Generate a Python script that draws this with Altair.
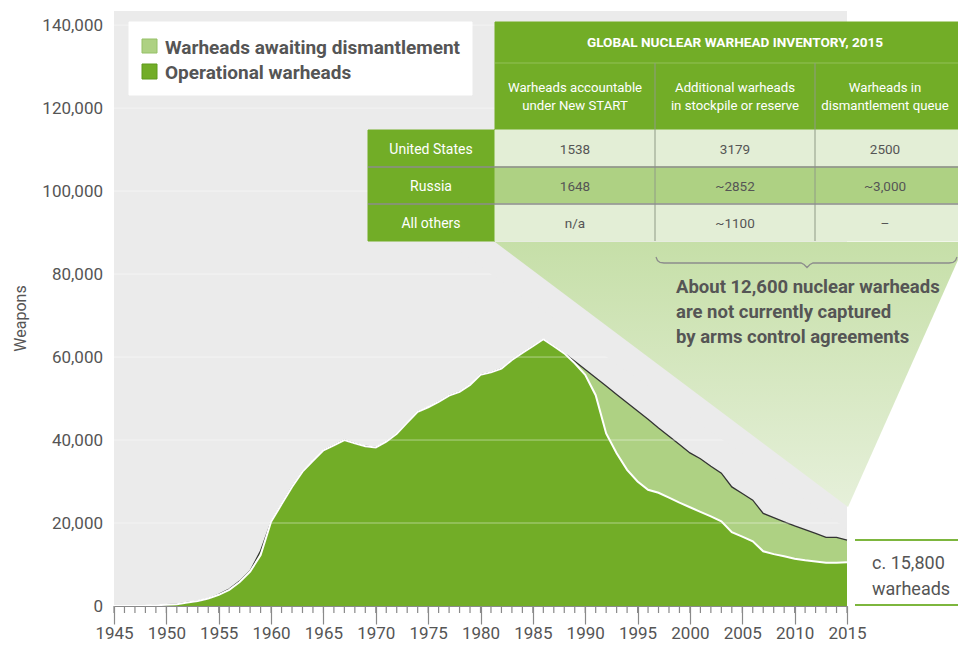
import altair as alt
import pandas as pd

# ---------------- data ----------------
years = list(range(1945, 2016))
total_inventory = [
    2, 9, 13, 50, 170, 300, 450, 850, 1200, 1800,
    2800, 4100, 6000, 8500, 13300, 20300, 24500, 28700, 32400, 35000,
    37500, 38700, 40000, 39200, 38500, 38200, 39600, 41500, 44200, 46800,
    47900, 49200, 50700, 51600, 53300, 55700, 56300, 57200, 59300, 61000,
    62600, 64300, 62600, 60900, 59000, 57000, 55000, 53000, 51000, 49000,
    47000, 45000, 42900, 40900, 38900, 36900, 35500, 33700, 32000, 28700,
    27100, 25500, 22300, 21300, 20300, 19300, 18400, 17500, 16550, 16550, 15900,
]
operational = [
    2, 9, 13, 50, 170, 300, 450, 850, 1200, 1800,
    2700, 3900, 5800, 8300, 12300, 20300, 24500, 28700, 32400, 35000,
    37500, 38700, 40000, 39200, 38500, 38200, 39600, 41500, 44200, 46800,
    47900, 49200, 50700, 51600, 53300, 55700, 56300, 57200, 59300, 61000,
    62600, 64300, 62600, 60900, 58500, 55700, 50800, 41600, 36800, 32800,
    30000, 28000, 27300, 26100, 24900, 23800, 22700, 21600, 20400, 17800,
    16700, 15600, 13200, 12500, 12000, 11400, 11000, 10700, 10450, 10400, 10550,
]
y_ticks = [0, 20000, 40000, 60000, 80000, 100000, 120000, 140000]
x_ticks = list(range(1945, 2016, 5))
minor_years = list(range(1945, 2016))

legend_labels = ["Warheads awaiting dismantlement", "Operational warheads"]
table_title = "GLOBAL NUCLEAR WARHEAD INVENTORY, 2015"
col_heads = [["Warheads accountable", "under New START"],
             ["Additional warheads", "in stockpile or reserve"],
             ["Warheads in", "dismantlement queue"]]
row_heads = ["United States", "Russia", "All others"]
cells = [["1538", "3179", "2500"],
         ["1648", "~2852", "~3,000"],
         ["n/a", "~1100", "\u2013"]]
note_lines = ["About 12,600 nuclear warheads",
              "are not currently captured",
              "by arms control agreements"]
end_label = ["c. 15,800", "warheads"]

# ---------------- styling / layout ----------------
GREEN = "#72ad27"
LIGHT = "#aed183"
PALE = "#e3eed6"
BG = "#ebebeb"
TXT = "#555555"
FONT = "Roboto"

X0, Y0 = 114, 11          # page position of plot's top-left corner
W, H = 733, 595
PAGE_W, PAGE_H = 950, 636  # svg size (fits inside the window with the 8px margin)


def px(x):
    return x - X0


def py(y):
    return y - Y0


xscale = alt.Scale(domain=[1945, 2015], nice=False, zero=False)
yscale = alt.Scale(domain=[0, 143400], nice=False)
xaxis = alt.Axis(values=x_ticks, format="d", tickSize=18, tickColor="#8a8a8a",
                 tickWidth=1.2, domainColor="#8a8a8a", domainWidth=1.2,
                 labelFontSize=17, labelColor=TXT, labelFont=FONT,
                 labelBaseline="alphabetic", labelPadding=14,
                 labelOverlap=False, labelFlush=False, grid=False, zindex=1)
yaxis = alt.Axis(values=y_ticks, format=",.0f", labelFontSize=17, labelColor=TXT,
                 labelFont=FONT, ticks=False, tickSize=0, domain=False, grid=False,
                 labelPadding=11.5, labelOverlap=False, titleFont=FONT, titleFontSize=16,
                 titleFontWeight="normal", titleColor=TXT, titleAngle=270,
                 titleX=-94, titleY=307, titleAlign="center", titleBaseline="middle")


def xenc(f):
    return alt.X(f, type="quantitative", scale=xscale, axis=xaxis, title=None)


def yenc(f):
    return alt.Y(f, type="quantitative", scale=yscale, axis=yaxis, title="Weapons")


df = pd.DataFrame({"year": years, "total": total_inventory, "operational": operational})
base = alt.Chart(df)

band = base.mark_area(color=LIGHT).encode(x=xenc("year"), y=yenc("total"))
ops = base.mark_area(color=GREEN).encode(x=xenc("year"), y=yenc("operational"))
tot_line = base.mark_line(color="#333333", strokeWidth=1.3).encode(x=xenc("year"), y=yenc("total"))
ops_line = base.mark_line(color="white", strokeWidth=2).encode(x=xenc("year"), y=yenc("operational"))

grid = alt.Chart(pd.DataFrame({"v": y_ticks[1:]})).mark_rule(
    color="white", opacity=0.45, strokeWidth=1
).encode(y=yenc("v"), x=alt.value(0), x2=alt.value(W))

minor = alt.Chart(pd.DataFrame({"yr": minor_years})).mark_rule(
    color="#8a8a8a", strokeWidth=1.2
).encode(x=xenc("yr"), y=alt.value(H), y2=alt.value(H + 7))

PX = alt.X("x:Q", scale=None, axis=None)
PY = alt.Y("y:Q", scale=None, axis=None)

# gray mask that ends the gridlines along a diagonal, then the funnel
mask = alt.Chart(pd.DataFrame({
    "x": [px(446), px(847)], "y": [py(242), py(242)], "y2": [py(242), py(529)]
})).mark_area(color=BG).encode(x=PX, y=PY, y2="y2:Q")

funnel = alt.Chart(pd.DataFrame({
    "x": [px(495), px(848), px(966)], "y": [py(242)] * 3, "y2": [py(242), py(507), py(242)]
})).mark_area(
    color=alt.Gradient(gradient="linear",
                       stops=[alt.GradientStop(color="#c6dfa8", offset=0),
                              alt.GradientStop(color="#e6f0da", offset=1)],
                       x1=0, x2=0, y1=0, y2=1)
).encode(x=PX, y=PY, y2="y2:Q")

brace_pts = [(656, 257), (657.5, 260.5), (660, 262.5), (664, 263), (801, 263), (804, 264.5),
             (807, 267.5), (810, 264.5), (813, 263), (949, 263), (953, 262.5), (955.5, 260.5), (957, 257)]
brace = alt.Chart(pd.DataFrame({
    "i": list(range(len(brace_pts))),
    "x": [px(a) for a, b in brace_pts], "y": [py(b) for a, b in brace_pts]
})).mark_line(color="#8c8c8c", strokeWidth=1.3).encode(x=PX, y=PY, order="i:Q")

# rectangles: legend box, table
rect_rows = [
    (129, 472, 22, 95, "#ffffff", "#ffffff"),
    (495, 966, 22, 63, GREEN, GREEN),
    (495, 966, 63, 130, GREEN, GREEN),
    (368, 495, 130, 241, GREEN, GREEN),
    (495, 966, 130, 167, PALE, PALE),
    (495, 966, 167, 204, LIGHT, LIGHT),
    (495, 966, 204, 241, PALE, PALE),
    (142, 157, 39, 53, LIGHT, "#95c066"),
    (142, 157, 64, 79, GREEN, "#5e9a1c"),
]
rects = alt.Chart(pd.DataFrame({
    "x": [px(r[0]) for r in rect_rows], "x2": [px(r[1]) for r in rect_rows],
    "y": [py(r[2]) for r in rect_rows], "y2": [py(r[3]) for r in rect_rows],
    "f": [r[4] for r in rect_rows], "s": [r[5] for r in rect_rows],
})).mark_rect(strokeWidth=1).encode(
    x=PX, x2="x2:Q", y=PY, y2="y2:Q",
    fill=alt.Fill("f:N", scale=None), stroke=alt.Stroke("s:N", scale=None))

rule_rows = [
    (495, 966, 63, 63, "#92c058", 1),
    (655, 655, 63, 241, "#8f9a86", 1),
    (815, 815, 63, 241, "#8f9a86", 1),
    (368, 966, 167, 167, "#8c8c8c", 1.5),
    (368, 966, 204, 204, "#8c8c8c", 1.5),
    (855, 966, 540, 540, "#7db63e", 2),
    (855, 966, 605, 605, "#7db63e", 2),
]
rules = alt.Chart(pd.DataFrame({
    "x": [px(r[0]) for r in rule_rows], "x2": [px(r[1]) for r in rule_rows],
    "y": [py(r[2]) for r in rule_rows], "y2": [py(r[3]) for r in rule_rows],
    "c": [r[4] for r in rule_rows], "w": [r[5] for r in rule_rows],
})).mark_rule().encode(
    x=PX, x2="x2:Q", y=PY, y2="y2:Q",
    color=alt.Color("c:N", scale=None), strokeWidth=alt.StrokeWidth("w:Q", scale=None))


def text_layer(rows, align, weight):
    d = pd.DataFrame({
        "x": [px(r[0]) for r in rows], "y": [py(r[1]) for r in rows],
        "t": [r[2] for r in rows], "s": [r[3] for r in rows], "c": [r[4] for r in rows],
    })
    return alt.Chart(d).mark_text(align=align, baseline="alphabetic", font=FONT,
                                  fontWeight=weight).encode(
        x=PX, y=PY, text="t:N",
        size=alt.Size("s:Q", scale=None), color=alt.Color("c:N", scale=None))


col_x = [575, 735, 885]
row_y = [153.5, 190.5, 228]
center_normal = []
for cx, (l1, l2) in zip(col_x, col_heads):
    center_normal.append((cx, 91.5, l1, 13.2, "white"))
    center_normal.append((cx, 109.5, l2, 13.2, "white"))
for ry, name, vals in zip(row_y, row_heads, cells):
    center_normal.append((431, ry, name, 14, "white"))
    for cx, v in zip(col_x, vals):
        center_normal.append((cx, ry, v, 13.5, TXT))

center_bold = [(735, 47, table_title, 13.6, "white")]
left_bold = [(165, 54, legend_labels[0], 19, TXT), (165, 79, legend_labels[1], 19, TXT)]
left_bold += [(676, 293 + 25 * i, t, 18.5, TXT) for i, t in enumerate(note_lines)]
left_normal = [(872, 569, end_label[0], 18, TXT), (872, 595, end_label[1], 18, TXT)]

chart = alt.layer(
    band, ops, tot_line, ops_line, grid, mask, funnel, brace, rects, rules,
    text_layer(center_normal, "center", "normal"),
    text_layer(center_bold, "center", "bold"),
    text_layer(left_bold, "left", "bold"),
    text_layer(left_normal, "left", "normal"),
    minor,
).properties(
    width=W, height=H,
    autosize=alt.AutoSizeParams(type="none"),
    padding={"left": X0 - 8, "top": Y0 - 8,
             "right": PAGE_W - (X0 - 8) - W, "bottom": PAGE_H - (Y0 - 8) - H},
    background="white",
).configure_view(fill=BG, stroke=None)

chart.save("out.html", embed_options={"renderer": "svg", "actions": False})
